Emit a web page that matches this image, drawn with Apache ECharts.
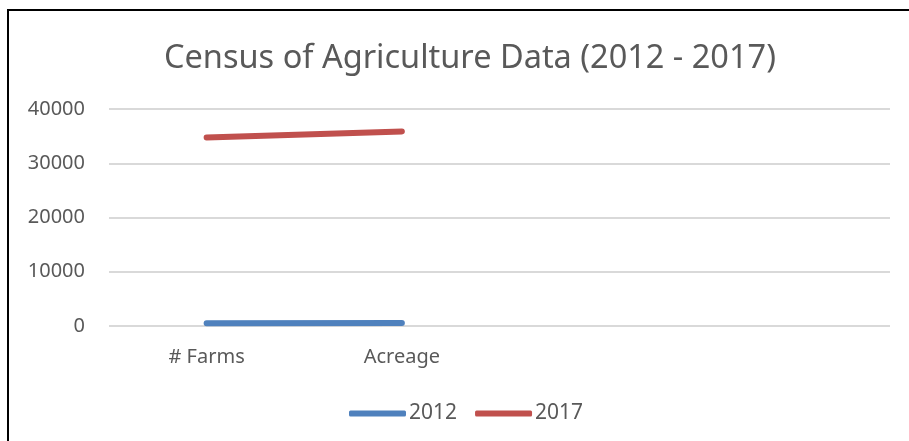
<!DOCTYPE html>
<html>
<head>
<meta charset="utf-8">
<script src="https://cdn.jsdelivr.net/npm/echarts@6/dist/echarts.min.js"></script>
<style>
html,body{margin:0;padding:0;background:#fff;}
#frame{position:absolute;left:7px;top:9px;width:920px;height:440px;border-left:2px solid #000;border-top:2px solid #000;box-sizing:border-box;}
#c{position:absolute;left:0;top:0;width:909px;height:441px;}
</style>
</head>
<body>
<div id="frame"></div>
<div id="c"></div>
<script>
const titleText = 'Census of Agriculture Data (2012 - 2017)';
const categories = ['# Farms', 'Acreage', '', ''];
const seriesNames = ['2012', '2017'];
const values2012 = [520, 560, null, null];
const values2017 = [34750, 35860, null, null];
const yTicks = { min: 0, max: 40000, interval: 10000 };
const colors = ['#4f81bd', '#c0504d'];

const FONT = '"Noto Sans", sans-serif';
const chart = echarts.init(document.getElementById('c'), null, { renderer: 'canvas' });
chart.setOption({
  animation: false,
  backgroundColor: 'transparent',
  title: {
    text: titleText, left: 159, top: 37,
    textStyle: { fontFamily: FONT, fontSize: 32.5, fontWeight: 'normal', color: '#595959' }
  },
  legend: {
    bottom: 12, left: 344, itemWidth: 57, itemHeight: 6, itemGap: 18,
    icon: 'roundRect',
    textStyle: { fontFamily: FONT, fontSize: 21, color: '#595959', padding: [0, 0, 0, -2] },
    data: seriesNames
  },
  grid: { left: 109, right: 19, top: 109, bottom: 115 },
  xAxis: {
    type: 'category', data: categories, boundaryGap: true,
    axisLine: { show: false }, axisTick: { show: false },
    axisLabel: { fontFamily: FONT, fontSize: 20, color: '#595959', margin: 21 }
  },
  yAxis: {
    type: 'value', min: yTicks.min, max: yTicks.max, interval: yTicks.interval,
    axisLine: { show: false }, axisTick: { show: false },
    axisLabel: { fontFamily: FONT, fontSize: 20, color: '#595959', margin: 24, formatter: v => String(v) },
    splitLine: { lineStyle: { color: '#d9d9d9', width: 2 } }
  },
  series: [
    { name: seriesNames[0], type: 'line', data: values2012, color: colors[0], showSymbol: false, symbol: 'none',
      lineStyle: { width: 6, cap: 'round', join: 'round' } },
    { name: seriesNames[1], type: 'line', data: values2017, color: colors[1], showSymbol: false, symbol: 'none',
      lineStyle: { width: 6, cap: 'round', join: 'round' } }
  ]
});
</script>
</body>
</html>
